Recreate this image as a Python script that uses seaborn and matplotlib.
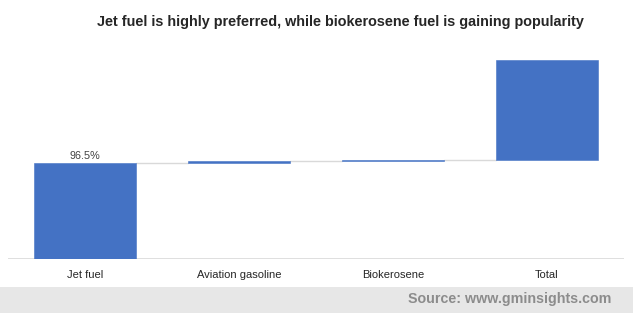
import matplotlib
matplotlib.use("Agg")
import matplotlib.pyplot as plt
import seaborn as sns
import numpy as np
import pandas as pd

categories = ["Jet fuel", "Aviation gasoline", "Biokerosene", "Total"]
values = [96.5, 2.5, 1.0, 100.0]
bar_label = "96.5%"
title = "Jet fuel is highly preferred, while biokerosene fuel is gaining popularity"
source = "Source: www.gminsights.com"

sns.set_theme(style="white")
plt.rcParams["font.family"] = ["Liberation Sans", "DejaVu Sans"]

bottoms = np.concatenate([[0], np.cumsum(values)[:-1]])
df = pd.DataFrame({"category": categories, "value": values})

W, H = 633, 313
fig = plt.figure(figsize=(W / 100, H / 100), dpi=100)
ax = fig.add_axes([8 / W, 1 - 258.7 / H, 616 / W, 208.3 / H])

blue = "#4472C4"
width = 0.656
sns.barplot(data=df, x="category", y="value", order=categories, color=blue,
            width=width, saturation=1, bottom=bottoms, ax=ax, zorder=3,
            edgecolor=blue, linewidth=0.4)

ax.set_xlim(-0.5, 3.5)
ax.set_ylim(0, 210)
ax.set_xlabel("")
ax.set_ylabel("")
ax.set_yticks([])
for s in ax.spines.values():
    s.set_visible(False)
ax.axhline(0, color="#d9d9d9", lw=1.2, zorder=2)

tops = bottoms + np.array(values)
for i in range(len(categories) - 1):
    lvl = tops[i]
    ax.plot([i + width / 2, i + 1 - width / 2], [lvl, lvl], color="#d9d9d9",
            lw=1.0, zorder=2)

ax.tick_params(axis="x", length=0, pad=8, labelsize=8, labelcolor="#262626")
ax.text(0, tops[0] + 1.5, bar_label, ha="center", va="bottom",
        fontsize=7.8, color="#404040")

fig.text(340 / W, 1 - 22 / H, title, ha="center", va="center",
         fontsize=10.4, fontweight="bold", color="#262626")

fig.patches.append(plt.Rectangle((0, 0), 1, 26 / H, transform=fig.transFigure,
                                 facecolor="#e7e7e7", edgecolor="none", zorder=0))
fig.text(611 / W, 1 - 299.5 / H, source, ha="right", va="center",
         fontsize=10.3, fontweight="bold", color="#8c8c8c")

fig.savefig("out.png", dpi=100)
